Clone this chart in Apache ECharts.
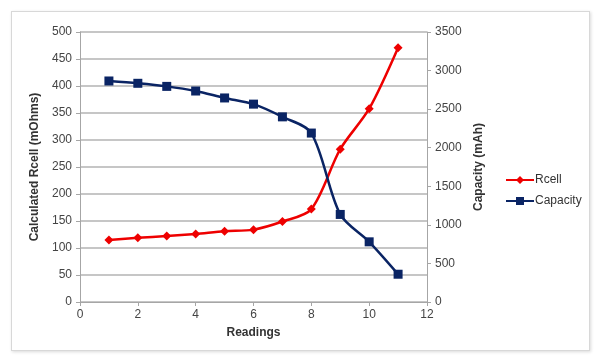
<!DOCTYPE html>
<html><head><meta charset="utf-8">
<script src="https://cdn.jsdelivr.net/npm/echarts@6/dist/echarts.min.js"></script>
<style>
html,body{margin:0;padding:0;background:#fff;}
#frame{position:absolute;left:11px;top:11px;width:577px;height:338px;border:1px solid #d8d8d8;box-shadow:1px 1px 3px rgba(0,0,0,0.15);background:#fff;}
#c{position:absolute;left:0;top:0;width:600px;height:362px;}
</style></head>
<body>
<div id="frame"></div>
<div id="c"></div>
<script>
const readings = [1,2,3,4,5,6,7,8,9,10,11];
const rcell = [115,119,122,126,131,134,149,172,283,358,471];
const capacity = [2865,2835,2795,2735,2645,2565,2400,2190,1135,780,360];

const chart = echarts.init(document.getElementById('c'));
const font = 'Liberation Sans, Arial, sans-serif';
const axisLine = {show:true, lineStyle:{color:'#a6a6a6', width:1}};
chart.setOption({
  animation:false,
  textStyle:{fontFamily:font},
  grid:{left:80, right:173, top:32, bottom:60},
  legend:{
    orient:'vertical', left:500, top:169, itemGap:9, itemWidth:28, itemHeight:10,
    textStyle:{fontFamily:font, fontSize:12, color:'#333', padding:[0,0,0,-4]},
    data:['Rcell','Capacity']
  },
  xAxis:{
    type:'value', min:0, max:12, interval:2,
    name:'Readings', nameLocation:'middle', nameGap:25,
    nameTextStyle:{fontFamily:font, fontSize:12, fontWeight:'bold', color:'#333'},
    axisLine:axisLine, axisTick:{show:true, length:4, lineStyle:{color:'#a6a6a6'}},
    axisLabel:{fontFamily:font, fontSize:12, color:'#444', margin:7},
    splitLine:{show:false}
  },
  yAxis:[{
    type:'value', min:0, max:500, interval:50,
    name:'Calculated Rcell (mOhms)', nameLocation:'middle', nameGap:38,
    nameTextStyle:{fontFamily:font, fontSize:12, fontWeight:'bold', color:'#333'},
    axisLine:axisLine, axisTick:{show:true, length:4, lineStyle:{color:'#a6a6a6'}},
    axisLabel:{fontFamily:font, fontSize:12, color:'#444', margin:8},
    splitLine:{show:true, lineStyle:{color:'#b3b3b3', width:1.5}}
  },{
    type:'value', min:0, max:3500, interval:500, position:'right',
    name:'Capacity (mAh)', nameLocation:'middle', nameGap:42, nameRotate:90,
    nameTextStyle:{fontFamily:font, fontSize:12, fontWeight:'bold', color:'#333'},
    axisLine:axisLine, axisTick:{show:true, length:4, lineStyle:{color:'#a6a6a6'}},
    axisLabel:{fontFamily:font, fontSize:12, color:'#444', margin:8, formatter:v=>String(v)},
    splitLine:{show:false}
  }],
  series:[{
    name:'Rcell', type:'line', yAxisIndex:0, smooth:0.3,
    data:readings.map((r,i)=>[r, rcell[i]]),
    symbol:'diamond', symbolSize:9,
    lineStyle:{color:'#ee0000', width:2.5},
    itemStyle:{color:'#ee0000'}
  },{
    name:'Capacity', type:'line', yAxisIndex:1, smooth:0.3,
    data:readings.map((r,i)=>[r, capacity[i]]),
    symbol:'rect', symbolSize:9,
    lineStyle:{color:'#0a2464', width:2.5},
    itemStyle:{color:'#0a2464'}
  }]
});
</script>
</body></html>
